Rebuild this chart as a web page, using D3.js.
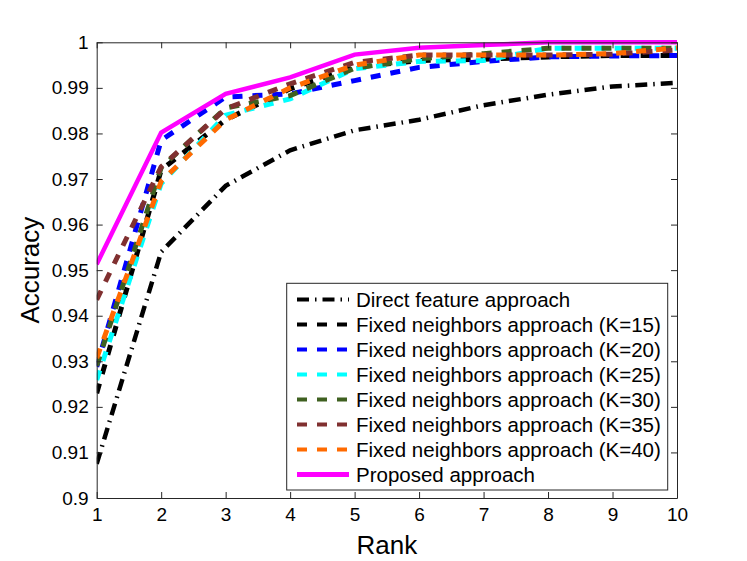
<!DOCTYPE html>
<html><head><meta charset="utf-8">
<script src="https://cdn.jsdelivr.net/npm/d3@7"></script>
<style>body{margin:0;background:#fff}svg{display:block;font-family:"Liberation Sans",Arial,Helvetica,sans-serif}</style>
</head><body><svg id="c" width="747" height="561"></svg>
<script>
const ranks = [1,2,3,4,5,6,7,8,9,10];
const direct   = [0.9075,0.9540,0.9685,0.9763,0.9807,0.9830,0.9862,0.9885,0.9903,0.9911];
const k15      = [0.9230,0.9720,0.9830,0.9898,0.9945,0.9960,0.9963,0.9968,0.9971,0.9971];
const k20      = [0.9288,0.9785,0.9880,0.9887,0.9916,0.9945,0.9958,0.9968,0.9970,0.9971];
const k25      = [0.9259,0.9690,0.9840,0.9876,0.9942,0.9958,0.9960,0.9987,0.9987,0.9987];
const k30      = [0.9290,0.9725,0.9856,0.9883,0.9943,0.9964,0.9975,0.9987,0.9987,0.9987];
const k35      = [0.9435,0.9727,0.9854,0.9909,0.9956,0.9972,0.9972,0.9972,0.9974,0.9983];
const k40      = [0.9307,0.9695,0.9830,0.9900,0.9950,0.9972,0.9972,0.9972,0.9975,0.9988];
const proposed = [0.9513,0.9802,0.9887,0.9923,0.9973,0.9988,0.9994,1.0,1.0,1.0];
const seriesNames = ["Direct feature approach","Fixed neighbors approach (K=15)","Fixed neighbors approach (K=20)","Fixed neighbors approach (K=25)","Fixed neighbors approach (K=30)","Fixed neighbors approach (K=35)","Fixed neighbors approach (K=40)","Proposed approach"];
const yTicks = [0.9,0.91,0.92,0.93,0.94,0.95,0.96,0.97,0.98,0.99,1];
const yTickLabels = ["0.9","0.91","0.92","0.93","0.94","0.95","0.96","0.97","0.98","0.99","1"];

const series = [
  {name:seriesNames[0], values:direct,   color:"#000000", dash:"12,6,1.5,6", w:4.5},
  {name:seriesNames[1], values:k15,      color:"#000000", dash:"10,10", w:5},
  {name:seriesNames[2], values:k20,      color:"#0000ff", dash:"10,10", w:5},
  {name:seriesNames[3], values:k25,      color:"#00ffff", dash:"10,10", w:5},
  {name:seriesNames[4], values:k30,      color:"#3f6020", dash:"10,10", w:5},
  {name:seriesNames[5], values:k35,      color:"#803030", dash:"10,10", w:5},
  {name:seriesNames[6], values:k40,      color:"#ff6a00", dash:"10,10", w:5},
  {name:seriesNames[7], values:proposed, color:"#ff00ff", dash:null, w:4.5}
];

const L=96.7, R=677, T=42.3, B=498;
const svg = d3.select("#c");
const x = d3.scaleLinear().domain([1,10]).range([L,R]);
const y = d3.scaleLinear().domain([0.9,1]).range([B,T]);
const axisColor="#262626";

svg.append("defs").append("clipPath").attr("id","pc").append("rect")
  .attr("x",L).attr("y",T-3).attr("width",R-L).attr("height",B-T+3);

const line = d3.line().x((d,i)=>x(ranks[i])).y(d=>y(d));
const g = svg.append("g").attr("clip-path","url(#pc)");
series.forEach(s=>{
  g.append("path").attr("d",line(s.values)).attr("fill","none")
   .attr("stroke",s.color).attr("stroke-width",s.w)
   .attr("stroke-dasharray",s.dash).attr("stroke-linejoin","miter");
});

const fs=19;
const xb = svg.append("g").attr("transform",`translate(0,${B})`)
  .call(d3.axisBottom(x).tickValues(ranks).tickFormat(d3.format("d")).tickSizeInner(-6).tickSizeOuter(0).tickPadding(10));
const xt = svg.append("g").attr("transform",`translate(0,${T})`)
  .call(d3.axisTop(x).tickValues(ranks).tickFormat("").tickSizeInner(-6).tickSizeOuter(0));
const yl = svg.append("g").attr("transform",`translate(${L},0)`)
  .call(d3.axisLeft(y).tickValues(yTicks).tickFormat((d,i)=>yTickLabels[i]).tickSizeInner(-6).tickSizeOuter(0).tickPadding(8));
const yr = svg.append("g").attr("transform",`translate(${R},0)`)
  .call(d3.axisRight(y).tickValues(yTicks).tickFormat("").tickSizeInner(-6).tickSizeOuter(0));
[xb,xt,yl,yr].forEach(a=>{
  a.select(".domain").attr("stroke",axisColor).attr("stroke-width",1);
  a.selectAll(".tick line").attr("stroke",axisColor);
  a.selectAll("text").attr("fill","#000").style("font-size",fs+"px").style("font-family",'"Liberation Sans",Arial,sans-serif');
});

svg.append("text").attr("x",(L+R)/2).attr("y",554).attr("text-anchor","middle")
  .style("font-size","26px").text("Rank");
svg.append("text").attr("transform",`translate(39,${(T+B)/2}) rotate(-90)`).attr("text-anchor","middle")
  .style("font-size","26px").text("Accuracy");

const lg = svg.append("g");
lg.append("rect").attr("x",286.7).attr("y",283.3).attr("width",381).attr("height",206.7)
  .attr("fill","#fff").attr("stroke",axisColor).attr("stroke-width",1);
series.forEach((s,i)=>{
  const cy = 299.5 + i*25;
  lg.append("line").attr("x1",297).attr("x2",349).attr("y1",cy).attr("y2",cy)
    .attr("stroke",s.color).attr("stroke-width",s.dash? 4:5).attr("stroke-dasharray",s.dash);
  lg.append("text").attr("x",356).attr("y",cy).attr("dy","0.35em").style("font-size","20.5px").text(s.name);
});
</script></body></html>
